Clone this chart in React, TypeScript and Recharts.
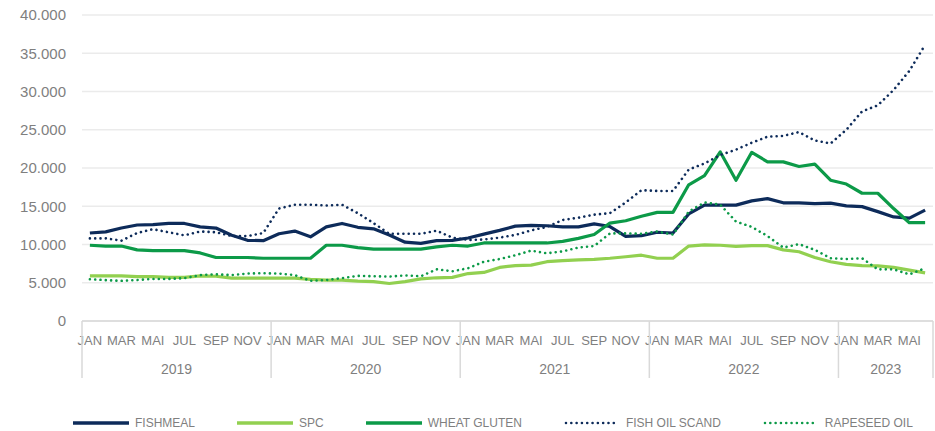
import React from 'react';
import { LineChart, Line, XAxis, YAxis, CartesianGrid } from 'recharts';

// monthly prices Jan 2019 - Jun 2023
const monthNames = ['JAN', 'FEB', 'MAR', 'APR', 'MAI', 'JUN', 'JUL', 'AUG', 'SEP', 'OKT', 'NOV', 'DES'];
const years = ['2019', '2020', '2021', '2022', '2023'];
const monthsInLastYear = 6;

const fishmeal = [
  11500, 11650, 12150, 12550, 12600, 12750, 12750, 12300, 12150, 11200, 10550, 10500,
  11400, 11750, 11000, 12300, 12750, 12250, 12050, 11250, 10300, 10150, 10500, 10550,
  10850, 11350, 11850, 12400, 12500, 12450, 12300, 12300, 12700, 12350, 11050, 11150,
  11600, 11500, 14000, 15150, 15150, 15150, 15700, 16000, 15450, 15450, 15350, 15400,
  15050, 14950, 14300, 13600, 13450, 14500,
];
const spc = [
  5900, 5900, 5900, 5800, 5800, 5700, 5700, 5900, 5850, 5600, 5600, 5600,
  5600, 5600, 5450, 5350, 5350, 5200, 5150, 4900, 5150, 5500, 5650, 5700,
  6200, 6350, 7000, 7250, 7300, 7750, 7900, 8000, 8050, 8200, 8400, 8600,
  8200, 8200, 9800, 9950, 9900, 9750, 9850, 9850, 9300, 9050, 8300, 7750,
  7400, 7250, 7200, 7000, 6650, 6300,
];
const wheatGluten = [
  9900, 9800, 9800, 9300, 9200, 9200, 9200, 8900, 8300, 8300, 8300, 8200,
  8200, 8200, 8200, 9900, 9900, 9600, 9400, 9400, 9400, 9400, 9700, 9900,
  9800, 10200, 10200, 10200, 10200, 10200, 10400, 10800, 11300, 12800, 13100, 13700,
  14200, 14200, 17800, 19000, 22100, 18400, 22050, 20800, 20800, 20200, 20500, 18400,
  17900, 16700, 16700, 14700, 12850, 12850,
];
const fishOilScand = [
  10800, 10800, 10500, 11500, 12000, 11600, 11200, 11700, 11600, 11100, 11100, 11500,
  14700, 15200, 15200, 15100, 15200, 14100, 12800, 11400, 11400, 11400, 11800, 10900,
  10600, 10650, 10900, 11250, 11850, 12300, 13200, 13500, 13900, 14100, 15500, 17100,
  17000, 17000, 19800, 20600, 21700, 22400, 23300, 24100, 24200, 24700, 23600, 23200,
  25000, 27400, 28200, 30200, 32700, 36100,
];
const rapeseedOil = [
  5450, 5350, 5250, 5350, 5500, 5500, 5600, 6000, 6100, 6000, 6200, 6250,
  6200, 6000, 5250, 5350, 5600, 5900, 5850, 5800, 5950, 5850, 6750, 6500,
  6900, 7750, 8100, 8600, 9200, 8850, 9100, 9600, 9800, 11450, 11450, 11400,
  11700, 11300, 14300, 15500, 15200, 13000, 12300, 11100, 9600, 10050, 9300, 8200,
  8100, 8200, 6750, 6750, 6100, 6900,
];
const yTicks = [0, 5000, 10000, 15000, 20000, 25000, 30000, 35000, 40000];

const NAVY = '#0d2b5a';
const LIGHT_GREEN = '#92d050';
const GREEN = '#0c9a48';
const TEXT = '#7f7f7f';
const FONT = '"Liberation Sans", Arial, sans-serif';

const series = [
  { key: 'fishmeal', name: 'FISHMEAL', color: NAVY, dotted: false },
  { key: 'spc', name: 'SPC', color: LIGHT_GREEN, dotted: false },
  { key: 'wheatGluten', name: 'WHEAT GLUTEN', color: GREEN, dotted: false },
  { key: 'fishOilScand', name: 'FISH OIL SCAND', color: NAVY, dotted: true },
  { key: 'rapeseedOil', name: 'RAPESEED OIL', color: GREEN, dotted: true },
];

const data = fishmeal.map((v, i) => ({
  month: monthNames[i % 12],
  year: years[Math.floor(i / 12)],
  fishmeal: v,
  spc: spc[i],
  wheatGluten: wheatGluten[i],
  fishOilScand: fishOilScand[i],
  rapeseedOil: rapeseedOil[i],
}));

const W = 935;
const H = 431;
const PLOT_W = 851;
// half a month, so points sit in the middle of their category like in Excel
const HALF = PLOT_W / data.length / 2;

const fmt = (v: number) => (v === 0 ? '0' : v.toLocaleString('de-DE'));

// second level of the category axis: year labels and separators
const YearTick = (props: any) => {
  const { x, y, index } = props;
  const last = data.length - 1;
  const items: React.ReactNode[] = [];
  if (index % 12 === 0) {
    const yi = Math.floor(index / 12);
    const n = yi === years.length - 1 ? monthsInLastYear : 12;
    items.push(<line key="l" x1={x - HALF} x2={x - HALF} y1={y - 28} y2={y + 29} stroke="#d9d9d9" strokeWidth={1.5} />);
    items.push(
      <text key="t" x={x + (n - 1) * HALF} y={y + 20} dy="0.35em" textAnchor="middle" fill={TEXT} fontSize={14} fontFamily={FONT}>
        {years[yi]}
      </text>
    );
  }
  if (index === last) {
    items.push(<line key="r" x1={x + HALF} x2={x + HALF} y1={y - 28} y2={y + 29} stroke="#d9d9d9" strokeWidth={1.5} />);
  }
  return <g>{items}</g>;
};

const LegendSwatch = ({ color, dotted }: { color: string; dotted: boolean }) => (
  <svg width={56} height={10} style={{ display: 'block' }}>
    {dotted ? (
      <line x1={2} x2={55} y1={5} y2={5} stroke={color} strokeWidth={2.6} strokeDasharray="0.01 5.3" strokeLinecap="round" />
    ) : (
      <line x1={0} x2={56} y1={5} y2={5} stroke={color} strokeWidth={3.5} />
    )}
  </svg>
);

export default function App() {
  return (
    <div style={{ position: 'absolute', left: 0, top: 0, width: W, height: H, background: '#fff', fontFamily: FONT }}>
      <LineChart width={W} height={H} data={data} margin={{ top: 15, right: 2, left: 0, bottom: 50 }}>
        <CartesianGrid vertical={false} stroke="#ebebeb" strokeWidth={1.5} />
        <XAxis
          dataKey="month"
          interval={1}
          height={28}
          padding={{ left: HALF, right: HALF }}
          tickSize={0}
          tickMargin={15}
          axisLine={{ stroke: '#d9d9d9', strokeWidth: 1.5 }}
          tickLine={false}
          tick={{ fill: TEXT, fontSize: 13, fontFamily: FONT }}
        />
        <XAxis
          xAxisId="year"
          dataKey="year"
          interval={0}
          height={32}
          padding={{ left: HALF, right: HALF }}
          tickSize={0}
          tickMargin={0}
          axisLine={false}
          tickLine={false}
          tick={<YearTick />}
          allowDuplicatedCategory
        />
        <YAxis
          width={82}
          domain={[0, 40000]}
          ticks={yTicks}
          axisLine={false}
          tickLine={false}
          tickSize={0}
          tickMargin={16}
          tickFormatter={fmt}
          tick={{ fill: TEXT, fontSize: 15, fontFamily: FONT }}
        />
        {series.map((s) => (
          <Line
            key={s.key}
            type="linear"
            dataKey={s.key}
            name={s.name}
            stroke={s.color}
            strokeWidth={s.dotted ? 2.6 : 3.2}
            strokeDasharray={s.dotted ? '0.01 5.3' : undefined}
            strokeLinecap={s.dotted ? 'round' : 'butt'}
            strokeLinejoin="round"
            dot={false}
            activeDot={false}
            isAnimationActive={false}
          />
        ))}
      </LineChart>
      <div style={{ position: 'absolute', left: 73, top: 416, display: 'flex', alignItems: 'center', gap: 42 }}>
        {series.map((s) => (
          <div key={s.key} style={{ display: 'flex', alignItems: 'center', gap: 6 }}>
            <LegendSwatch color={s.color} dotted={s.dotted} />
            <span style={{ fontSize: 12, color: TEXT, lineHeight: '14px' }}>{s.name}</span>
          </div>
        ))}
      </div>
    </div>
  );
}
